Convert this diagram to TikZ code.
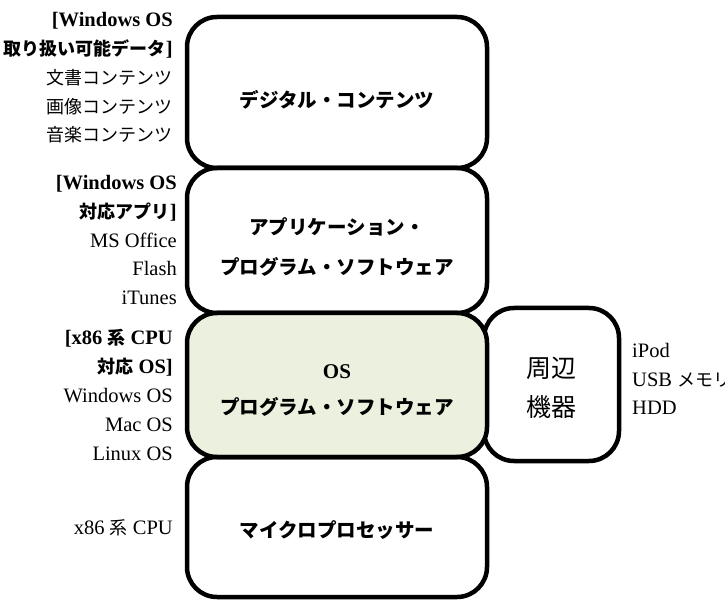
\documentclass[tikz,border=0pt]{standalone}
\usepackage{fontspec}
\setmainfont{Liberation Serif}
\newfontfamily\jp{Noto Sans CJK JP}
\definecolor{osgreen}{HTML}{EBF1DE}
\begin{document}
\begin{tikzpicture}[x=1pt,y=-1pt,
  layer/.style={draw, line width=4.5pt, rounded corners=30pt, minimum width=300pt, inner sep=0pt},
  boxtext/.style={inner sep=0pt, align=center, font=\jp\bfseries\fontsize{19.5}{40}\selectfont},
  side/.style={inner sep=0pt, font=\fontsize{20.5}{28.8}\selectfont, align=right},
  jpl/.style={}
]
\useasboundingbox (0,0) rectangle (725,601);
% peripheral box
\node[draw, line width=4.5pt, rounded corners=30pt, minimum width=135pt, minimum height=153pt, inner sep=0pt] (per) at (551.5,384.5) {};
% main layers
\node[layer, minimum height=151pt] (dc) at (337,92.5) {};
\node[layer, minimum height=145pt] (app) at (337,240.5) {};
\node[layer, minimum height=144pt, fill=osgreen] (os) at (337,385) {};
\node[layer, minimum height=140pt] (cpu) at (337,527) {};
% box texts
\node[boxtext] (dct) at (337,100) {デジタル・コンテンツ};
\node[boxtext] (appt1) at (337,227) {アプリケーション・};
\node[boxtext] (appt2) at (337,267) {プログラム・ソフトウェア};
\node[boxtext, font=\bfseries\fontsize{21}{30}\selectfont] (ost1) at (337,372) {OS};
\node[boxtext] (ost2) at (337,407) {プログラム・ソフトウェア};
\node[boxtext] (cput) at (337,530) {マイクロプロセッサー};
\node[inner sep=0pt, font=\jp\fontsize{25}{39}\selectfont, align=center] (pert) at (551,388) {周辺\\機器};
% left annotations
\node[side, anchor=east] (l1) at (173,78) {\textbf{[Windows OS}\\{\jp\bfseries\fontsize{18}{28.8}\selectfont 取り扱い可能データ}\textbf{]}\\{\jp\fontsize{18}{28.8}\selectfont 文書コンテンツ}\\{\jp\fontsize{18}{28.8}\selectfont 画像コンテンツ}\\{\jp\fontsize{18}{28.8}\selectfont 音楽コンテンツ}};
\node[side, anchor=east] (l2) at (177,240) {\textbf{[Windows OS}\\{\jp\bfseries\fontsize{18}{28.8}\selectfont 対応アプリ}\textbf{]}\\MS Office\\Flash\\iTunes};
\node[side, anchor=east] (l3) at (173,395) {\textbf{[x86 {\jp\fontsize{18}{28.8}\selectfont 系} CPU}\\{\jp\bfseries\fontsize{18}{28.8}\selectfont 対応} \textbf{OS]}\\Windows OS\\Mac OS\\Linux OS};
\node[side, anchor=east] (l4) at (173,528) {x86 {\jp\fontsize{18}{28.8}\selectfont 系} CPU};
% right annotations
\node[side, anchor=west, align=left] (r1) at (632,379) {iPod\\USB {\jp\fontsize{18}{28.8}\selectfont メモリ}\\HDD};
\end{tikzpicture}
\end{document}
